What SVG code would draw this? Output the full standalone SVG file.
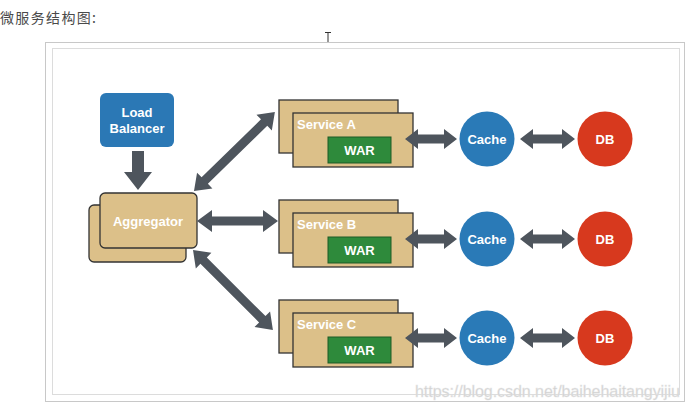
<svg xmlns="http://www.w3.org/2000/svg" width="690" height="409" viewBox="0 0 690 409">
<style>
.t{font-family:"Liberation Sans",Arial,sans-serif;font-weight:bold;fill:#fff;text-anchor:middle;font-size:13px}
.tl{font-family:"Liberation Sans",Arial,sans-serif;font-weight:bold;fill:#fff;font-size:13px}
.tan{fill:#dcc089;stroke:#333;stroke-width:1.3}
.war{fill:#2e8a3b;stroke:#1d5a26;stroke-width:1}
.cache{fill:#2a7ab7}
.db{fill:#d7391e}
.arr{fill:#4e555d}
</style>
<rect width="690" height="409" fill="#fff"/>
<text x="0" y="23" font-family="'Noto Sans CJK SC',sans-serif" font-size="14" fill="#4a4a4a" textLength="96">微服务结构图:</text>
<path d="M325,32.5h6M328,32.5v12M325,44.5h6" stroke="#333" stroke-width="1" fill="none"/>
<rect x="45.5" y="42.5" width="639" height="359" fill="#fff" stroke="#c8c8c8"/>
<rect x="52.5" y="48.5" width="627" height="346" fill="#fff" stroke="#dcdcdc"/>

<g id="loadbalancer">
<rect x="100" y="93" width="74" height="54" rx="6" fill="#2b78b5"/>
<text class="t" x="137" y="117">Load</text>
<text class="t" x="137" y="133">Balancer</text>
</g>
<g id="aggregator">
<rect class="tan" x="89" y="205" width="97" height="57" rx="5"/>
<rect class="tan" x="100" y="193" width="97" height="55" rx="5"/>
<text class="t" x="148" y="226">Aggregator</text>
</g>

<g id="serviceA">
<rect class="tan" x="279" y="100" width="119" height="53"/>
<rect class="tan" x="293" y="113" width="120" height="54"/>
<text class="tl" x="297" y="129">Service A</text>
<rect class="war" x="328" y="137" width="63" height="26"/>
<text class="t" x="359.5" y="155">WAR</text>
</g>
<g id="serviceB">
<rect class="tan" x="279" y="200" width="119" height="53"/>
<rect class="tan" x="293" y="213" width="120" height="54"/>
<text class="tl" x="297" y="229">Service B</text>
<rect class="war" x="328" y="237" width="63" height="26"/>
<text class="t" x="359.5" y="255">WAR</text>
</g>
<g id="serviceC">
<rect class="tan" x="279" y="300" width="119" height="53"/>
<rect class="tan" x="293" y="313" width="120" height="54"/>
<text class="tl" x="297" y="329">Service C</text>
<rect class="war" x="328" y="337" width="63" height="26"/>
<text class="t" x="359.5" y="355">WAR</text>
</g>

<g id="cacheA"><circle class="cache" cx="487" cy="139" r="27.5"/><text class="t" x="487" y="144">Cache</text></g>
<g id="cacheB"><circle class="cache" cx="487" cy="239" r="27.5"/><text class="t" x="487" y="244">Cache</text></g>
<g id="cacheC"><circle class="cache" cx="487" cy="338" r="27.5"/><text class="t" x="487" y="343">Cache</text></g>
<g id="dbA"><circle class="db" cx="605" cy="139" r="27.5"/><text class="t" x="605" y="144">DB</text></g>
<g id="dbB"><circle class="db" cx="605" cy="239" r="27.5"/><text class="t" x="605" y="244">DB</text></g>
<g id="dbC"><circle class="db" cx="605" cy="338" r="27.5"/><text class="t" x="605" y="343">DB</text></g>

<g id="connectors" class="arr">
<polygon points="132,151 144,151 144,172 152,172 138,190 124,172 132,172"/>
<polygon transform="translate(194,191) rotate(-44.3)" points="0,0 15,-11 15,-4.5 98,-4.5 98,-11 113,0 98,11 98,4.5 15,4.5 15,11"/>
<polygon transform="translate(193,250) rotate(45)" points="0,0 15,-11 15,-4.5 98,-4.5 98,-11 113,0 98,11 98,4.5 15,4.5 15,11"/>
<polygon points="197,221 212,210 212,216.5 263,216.5 263,210 278,221 263,232 263,225.5 212,225.5 212,232"/>
<polygon points="405,139 418,129 418,134.5 444,134.5 444,129 457,139 444,149 444,143.5 418,143.5 418,149"/>
<polygon points="405,239 418,229 418,234.5 444,234.5 444,229 457,239 444,249 444,243.5 418,243.5 418,249"/>
<polygon points="405,338 418,328 418,333.5 444,333.5 444,328 457,338 444,348 444,342.5 418,342.5 418,348"/>
<polygon points="520,139 533,129 533,134.5 562,134.5 562,129 575,139 562,149 562,143.5 533,143.5 533,149"/>
<polygon points="520,239 533,229 533,234.5 562,234.5 562,229 575,239 562,249 562,243.5 533,243.5 533,249"/>
<polygon points="520,338 533,328 533,333.5 562,333.5 562,328 575,338 562,348 562,342.5 533,342.5 533,348"/>
</g>

<text x="415" y="397" font-family="'Liberation Sans',Arial,sans-serif" font-size="16" fill="#d0d0d0" stroke="#e8e8e8" stroke-width="0.4" textLength="265">https://blog.csdn.net/baihehaitangyijiu</text>
</svg>
